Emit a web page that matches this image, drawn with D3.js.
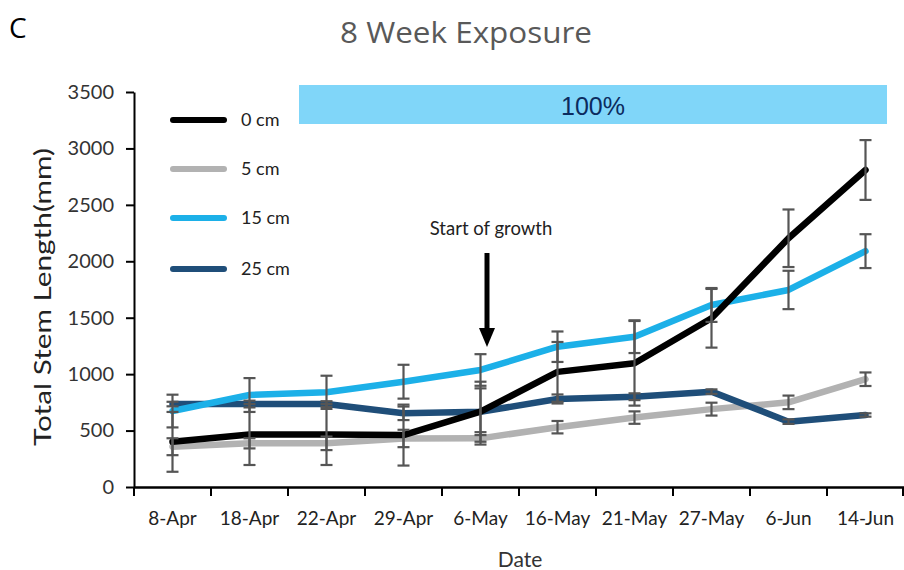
<!DOCTYPE html>
<html>
<head>
<meta charset="utf-8">
<script src="https://cdn.jsdelivr.net/npm/d3@7/dist/d3.min.js"></script>
<style>
  html, body { margin: 0; padding: 0; background: #fff; }
  svg { display: block; }
</style>
</head>
<body>
<svg id="chart" width="904" height="570"></svg>
<script>
// Sampling dates (category axis)
const dates = ["8-Apr", "18-Apr", "22-Apr", "29-Apr", "6-May", "16-May", "21-May", "27-May", "6-Jun", "14-Jun"];

// Mean total stem length (mm) per burial depth
const depth0  = [400, 465, 465, 460, 667, 1020, 1096, 1495, 2204, 2809];
const depth5  = [357, 387, 387, 430, 431, 530, 615, 690, 750, 955];
const depth15 = [673, 815, 839, 933, 1037, 1243, 1332, 1613, 1746, 2090];
const depth25 = [735, 735, 735, 653, 667, 780, 800, 845, 579, 638];

// Error bar half-widths (mm)
const err0  = [265, 270, 270, 270, 266, 265, 375, 260, 255, 265];
const err5  = [75, 45, 60, 77, 55, 55, 55, 57, 60, 60];
const err15 = [145, 150, 147, 150, 140, 135, 145, 150, 170, 150];
const err25 = [20, 30, 25, 60, 207, 40, 30, 20, 20, 15];

const seriesNames  = ["0 cm", "5 cm", "15 cm", "25 cm"];
const seriesColors = ["#000000", "#b2b2b2", "#1cb0e8", "#1f4e79"];
const yTicks = [0, 500, 1000, 1500, 2000, 2500, 3000, 3500];

const series = [
  { name: seriesNames[0], color: seriesColors[0], values: depth0,  err: err0 },
  { name: seriesNames[1], color: seriesColors[1], values: depth5,  err: err5 },
  { name: seriesNames[2], color: seriesColors[2], values: depth15, err: err15 },
  { name: seriesNames[3], color: seriesColors[3], values: depth25, err: err25 }
];

const svg = d3.select("#chart");
const font = "Lato, 'Open Sans', sans-serif";

const x = d3.scaleBand().domain(dates).range([134, 904]);
const y = d3.scaleLinear().domain([0, 3500]).range([487, 92]);
const cx = d => x(d) + x.bandwidth() / 2;

// Panel letter and title
svg.append("text").attr("x", 9).attr("y", 38)
  .attr("font-family", "'Open Sans', sans-serif").attr("font-size", 28).attr("fill", "#000").text("C");
svg.append("text").attr("x", 466).attr("y", 43).attr("text-anchor", "middle")
  .attr("font-family", "'Open Sans', sans-serif").attr("font-size", 30).attr("fill", "#595959")
  .attr("textLength", 252).attr("lengthAdjust", "spacingAndGlyphs")
  .text("8 Week Exposure");

// Treatment banner
svg.append("rect").attr("x", 299).attr("y", 85).attr("width", 588).attr("height", 39).attr("fill", "#80d6f9");
svg.append("text").attr("x", 593).attr("y", 115).attr("text-anchor", "middle")
  .attr("font-family", "'Liberation Sans', Arial, sans-serif").attr("font-size", 25).attr("fill", "#0b2b5e").text("100%");

// Y axis
const yAxis = svg.append("g").attr("transform", "translate(134,0)")
  .call(d3.axisLeft(y).tickValues(yTicks).tickFormat(d3.format("d"))
    .tickSize(8).tickSizeOuter(0).tickPadding(12));
yAxis.select(".domain").attr("stroke", "#000").attr("stroke-width", 2);
yAxis.selectAll(".tick line").attr("stroke", "#000").attr("stroke-width", 2);
yAxis.selectAll(".tick text").attr("font-family", font).attr("font-size", 20).attr("fill", "#333");

svg.append("text")
  .attr("transform", "translate(51,297) rotate(-90)")
  .attr("text-anchor", "middle")
  .attr("font-family", font).attr("font-size", 24).attr("fill", "#222")
  .attr("textLength", 298).attr("lengthAdjust", "spacingAndGlyphs")
  .text("Total Stem Length(mm)");

// X axis: labels at category centres, ticks at category boundaries
const xAxis = svg.append("g").attr("transform", "translate(0,487)")
  .call(d3.axisBottom(x).tickSize(0).tickPadding(25).tickSizeOuter(0));
xAxis.select(".domain").attr("stroke", "#000").attr("stroke-width", 2.5);
xAxis.selectAll(".tick text").attr("font-family", font).attr("font-size", 19).attr("fill", "#222");
const bounds = dates.map(d => x(d)).concat([x.range()[1] - 1]);
svg.append("g").selectAll("line").data(bounds).join("line")
  .attr("x1", d => d).attr("x2", d => d).attr("y1", 487).attr("y2", 496)
  .attr("stroke", "#000").attr("stroke-width", 2);

svg.append("text").attr("x", 520).attr("y", 567).attr("text-anchor", "middle")
  .attr("font-family", font).attr("font-size", 21).attr("fill", "#333").text("Date");

// Series lines
const line = d3.line().x((v, i) => cx(dates[i])).y(v => y(v));
const drawOrder = [1, 3, 2, 0];
drawOrder.forEach(k => {
  const s = series[k];
  svg.append("path").datum(s.values)
    .attr("d", line).attr("fill", "none")
    .attr("stroke", s.color).attr("stroke-width", 6.5)
    .attr("stroke-linejoin", "round").attr("stroke-linecap", "round");
});

// Error bars
const eb = svg.append("g").attr("stroke", "#555").attr("stroke-width", 2.2);
series.forEach(s => {
  s.values.forEach((v, i) => {
    const px = cx(dates[i]);
    const top = y(v + s.err[i]), bot = y(v - s.err[i]);
    eb.append("line").attr("x1", px).attr("x2", px).attr("y1", top).attr("y2", bot);
    eb.append("line").attr("x1", px - 6).attr("x2", px + 6).attr("y1", top).attr("y2", top);
    eb.append("line").attr("x1", px - 6).attr("x2", px + 6).attr("y1", bot).attr("y2", bot);
  });
});

// Legend
const legend = svg.append("g");
const legendY = [120, 169, 218, 269];
series.forEach((s, i) => {
  legend.append("line").attr("x1", 173).attr("x2", 224)
    .attr("y1", legendY[i]).attr("y2", legendY[i])
    .attr("stroke", s.color).attr("stroke-width", 6).attr("stroke-linecap", "round");
  legend.append("text").attr("x", 241).attr("y", legendY[i] + 6)
    .attr("font-family", font).attr("font-size", 18).attr("fill", "#222").text(s.name);
});

// Annotation arrow
svg.append("text").attr("x", 491).attr("y", 235).attr("text-anchor", "middle")
  .attr("font-family", font).attr("font-size", 18.5).attr("fill", "#222").text("Start of growth");
svg.append("line").attr("x1", 487).attr("x2", 487).attr("y1", 253).attr("y2", 330)
  .attr("stroke", "#000").attr("stroke-width", 5);
svg.append("path").attr("d", "M479,328 L495,328 L487,347 Z").attr("fill", "#000");
</script>
</body>
</html>
